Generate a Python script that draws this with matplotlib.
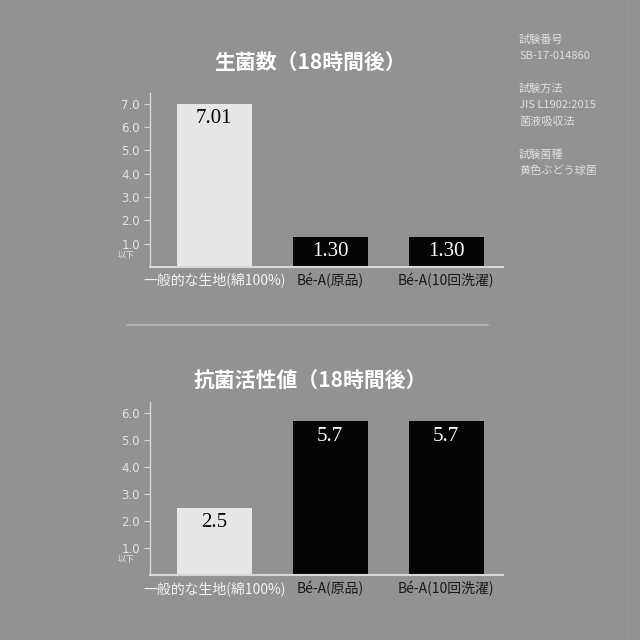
import matplotlib
matplotlib.use("Agg")
import matplotlib.pyplot as plt
import matplotlib.transforms as mtransforms

plt.rcParams['font.family'] = ['Noto Sans CJK JP', 'DejaVu Sans']

bg = '#929292'
light = '#e6e6e6'
dark = '#050505'

categories = ['一般的な生地(綿100%)', 'Bé-A(原品)', 'Bé-A(10回洗濯)']
label_colors = ['#f2f2f2', '#1a1a1a', '#1a1a1a']
bar_colors = [light, dark, dark]

count_values = [7.01, 1.30, 1.30]
count_labels = ['7.01', '1.30', '1.30']
count_ticks = [1.0, 2.0, 3.0, 4.0, 5.0, 6.0, 7.0]

activity_values = [2.5, 5.7, 5.7]
activity_labels = ['2.5', '5.7', '5.7']
activity_ticks = [1.0, 2.0, 3.0, 4.0, 5.0, 6.0]

notes = ['試験番号', 'SB-17-014860', '', '試験方法', 'JIS L1902:2015', '菌液吸収法', '', '試験菌種', '黄色ぶどう球菌']

fig = plt.figure(figsize=(6.4, 6.4), dpi=100, facecolor=bg)


def draw_panel(rect, values, labels, ticks, ymax, title, title_y):
    ax = fig.add_axes(rect)
    ax.set_facecolor(bg)
    x = list(range(len(values)))
    ax.bar(x, values, width=0.65, color=bar_colors, zorder=2)
    for i, (v, t) in enumerate(zip(values, labels)):
        ax.annotate(t, (i, v), xytext=(0, -11), textcoords='offset points',
                    ha='center', va='center', fontsize=15,
                    family='Liberation Serif',
                    color=dark if bar_colors[i] == light else 'white')
    ax.set_xlim(-0.556, 2.49)
    ax.set_ylim(0, ymax)
    ax.set_yticks(ticks)
    ax.set_yticklabels(['%.1f' % t for t in ticks], fontsize=8.5, color='#e4e4e4',
                       family='DejaVu Sans')
    ax.tick_params(axis='y', length=4, width=0.8, color='#d8d8d8', pad=3)
    ax.set_xticks(x)
    ax.set_xticklabels(categories, fontsize=10)
    for lab, c in zip(ax.get_xticklabels(), label_colors):
        lab.set_color(c)
    ax.tick_params(axis='x', length=0, pad=4)
    for s in ['top', 'right']:
        ax.spines[s].set_visible(False)
    ax.spines['left'].set_color('#d8d8d8')
    ax.spines['left'].set_linewidth(1.0)
    ax.spines['bottom'].set_color('#d8d8d8')
    ax.spines['bottom'].set_linewidth(1.5)
    trans = mtransforms.blended_transform_factory(ax.transAxes, ax.transData)
    ax.annotate('以下', (0, ticks[0]), xycoords=trans, xytext=(-23, -5),
                textcoords='offset points', ha='left', va='top',
                fontsize=6, color='#e4e4e4')
    fig.text(0.485, title_y, title, ha='center', va='center', fontsize=15,
             fontweight='bold', color='white')
    return ax


draw_panel([0.234, 0.583, 0.552, 0.272], count_values, count_labels, count_ticks,
           7.47, '生菌数（18時間後）', 0.902)
draw_panel([0.234, 0.101, 0.552, 0.271], activity_values, activity_labels, activity_ticks,
           6.4, '抗菌活性値（18時間後）', 0.405)

# separator line
fig.add_artist(plt.Line2D([0.198, 0.762], [0.492, 0.492], color='#b4b4b4', lw=1.2))
fig.add_artist(plt.Line2D([0.981, 0.981], [0.0, 1.0], color='#989898', lw=1.0))

y = 0.938
for line in notes:
    if line:
        fig.text(0.811, y, line, ha='left', va='center', fontsize=8, color='#dedede')
    y -= 0.0255 if line else 0.026

fig.savefig('out.png', dpi=100, facecolor=bg)
